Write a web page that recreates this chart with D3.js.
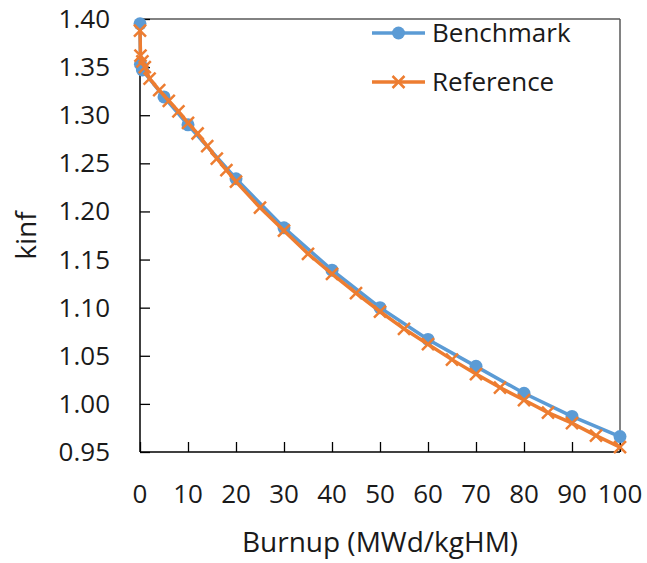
<!DOCTYPE html>
<html>
<head>
<meta charset="utf-8">
<script src="https://cdn.jsdelivr.net/npm/d3@7"></script>
<style>
  body { margin: 0; background: #fff; }
  text { font-family: "Open Sans", sans-serif; fill: #1a1a1a; }
</style>
</head>
<body>
<svg id="kinf" width="647" height="563"></svg>
<script>
// burnup (MWd/kgHM) and kinf for each series
var benchBurnup = [0, 0.1, 0.5, 5, 10, 20, 30, 40, 50, 60, 70, 80, 90, 100]
var benchKinf   = [1.395, 1.353, 1.347, 1.319, 1.290, 1.234, 1.183, 1.139, 1.100, 1.067, 1.039, 1.011, 0.987, 0.966]

var refBurnup = [0, 0.1, 0.5, 1, 2, 4, 6, 8, 10, 12, 14, 16, 18, 20, 25, 30, 35, 40, 45, 50, 55, 60, 65, 70, 75, 80, 85, 90, 95, 100]
var refKinf   = [1.388, 1.362, 1.356, 1.350, 1.338, 1.326, 1.315, 1.304, 1.292, 1.281, 1.268, 1.255, 1.243, 1.231, 1.204, 1.180, 1.156, 1.135, 1.115, 1.096, 1.078, 1.062, 1.046, 1.031, 1.017, 1.004, 0.991, 0.980, 0.967, 0.955]

var xTicks = [0, 10, 20, 30, 40, 50, 60, 70, 80, 90, 100]
var yTicks = [0.95, 1.00, 1.05, 1.10, 1.15, 1.20, 1.25, 1.30, 1.35, 1.40]

var seriesNames = ["Benchmark", "Reference"]
var seriesColors = ["#5B9BD5", "#ED7D31"]

var margin = {left:140, right:27, top:19, bottom:111}
var graph = {width:647-margin.left-margin.right, height:563-margin.top-margin.bottom}

var svg = d3.select("#kinf")
var target = svg.append("g")
    .attr("transform", "translate("+margin.left+","+margin.top+")")

var xScale = d3.scaleLinear().domain([0, 100]).range([0, graph.width])
var yScale = d3.scaleLinear().domain([0.95, 1.40]).range([graph.height, 0])

// frame: top and right in grey
target.append("line")
    .attr("x1", 0).attr("x2", graph.width)
    .attr("y1", 0).attr("y2", 0)
    .attr("stroke", "#595959").attr("stroke-width", 1.5)
target.append("line")
    .attr("x1", graph.width).attr("x2", graph.width)
    .attr("y1", 0).attr("y2", graph.height)
    .attr("stroke", "#595959").attr("stroke-width", 1.5)

// axes with inward ticks
var xAxis = d3.axisTop(xScale).tickValues(xTicks).tickSize(10).tickFormat("")
var xg = target.append("g").attr("transform", "translate(0,"+graph.height+")").call(xAxis)
var yAxis = d3.axisRight(yScale).tickValues(yTicks).tickSize(10).tickFormat("")
var yg = target.append("g").call(yAxis)
xg.select(".domain").remove()
yg.select(".domain").remove()
target.selectAll(".tick line").attr("stroke", "#000").attr("stroke-width", 1.3)

target.append("line")
    .attr("x1", 0).attr("x2", graph.width)
    .attr("y1", graph.height).attr("y2", graph.height)
    .attr("stroke", "#000").attr("stroke-width", 1.5)
target.append("line")
    .attr("x1", 0).attr("x2", 0)
    .attr("y1", 0).attr("y2", graph.height)
    .attr("stroke", "#000").attr("stroke-width", 1.5)

// tick labels
target.selectAll(".xlab")
    .data(xTicks)
    .enter()
    .append("text")
        .attr("x", d => xScale(d))
        .attr("y", graph.height + 51)
        .attr("text-anchor", "middle")
        .style("font-size", "26px")
        .text(d => d)

target.selectAll(".ylab")
    .data(yTicks)
    .enter()
    .append("text")
        .attr("x", -30)
        .attr("y", d => yScale(d) + 9)
        .attr("text-anchor", "end")
        .style("font-size", "26px")
        .text(d => d.toFixed(2))

// axis titles
target.append("text")
    .attr("x", graph.width/2)
    .attr("y", graph.height + 100)
    .attr("text-anchor", "middle")
    .style("font-size", "28px")
    .text("Burnup (MWd/kgHM)")

target.append("text")
    .attr("transform", "translate(-104,"+(graph.height/2)+") rotate(-90)")
    .attr("text-anchor", "middle")
    .style("font-size", "28px")
    .text("kinf")

// series
var line = d3.line()
    .x(d => xScale(d[0]))
    .y(d => yScale(d[1]))

var bench = benchBurnup.map((b, i) => [b, benchKinf[i]])
var ref = refBurnup.map((b, i) => [b, refKinf[i]])

target.append("path")
    .datum(bench)
    .attr("fill", "none")
    .attr("stroke", seriesColors[0])
    .attr("stroke-width", 3.5)
    .attr("d", line)

target.selectAll(".bdot")
    .data(bench)
    .enter()
    .append("circle")
        .attr("cx", d => xScale(d[0]))
        .attr("cy", d => yScale(d[1]))
        .attr("r", 6.5)
        .attr("fill", seriesColors[0])

target.append("path")
    .datum(ref)
    .attr("fill", "none")
    .attr("stroke", seriesColors[1])
    .attr("stroke-width", 3.5)
    .attr("d", line)

var cross = "M-6,-6L6,6M-6,6L6,-6"
target.selectAll(".rx")
    .data(ref)
    .enter()
    .append("path")
        .attr("transform", d => "translate("+xScale(d[0])+","+yScale(d[1])+")")
        .attr("d", cross)
        .attr("stroke", seriesColors[1])
        .attr("stroke-width", 2.5)

// legend
var legend = svg.append("g").attr("transform", "translate(372,33)")
seriesNames.forEach(function(name, i) {
    var g = legend.append("g").attr("transform", "translate(0,"+(i*49)+")")
    g.append("line")
        .attr("x1", 0).attr("x2", 53)
        .attr("stroke", seriesColors[i]).attr("stroke-width", 3.5)
    if (i == 0) {
        g.append("circle").attr("cx", 26.5).attr("r", 6.5).attr("fill", seriesColors[i])
    } else {
        g.append("path").attr("transform", "translate(26.5,0)").attr("d", cross)
            .attr("stroke", seriesColors[i]).attr("stroke-width", 2.5)
    }
    g.append("text")
        .attr("x", 60)
        .attr("y", 9)
        .style("font-size", "26px")
        .text(name)
})
</script>
</body>
</html>
